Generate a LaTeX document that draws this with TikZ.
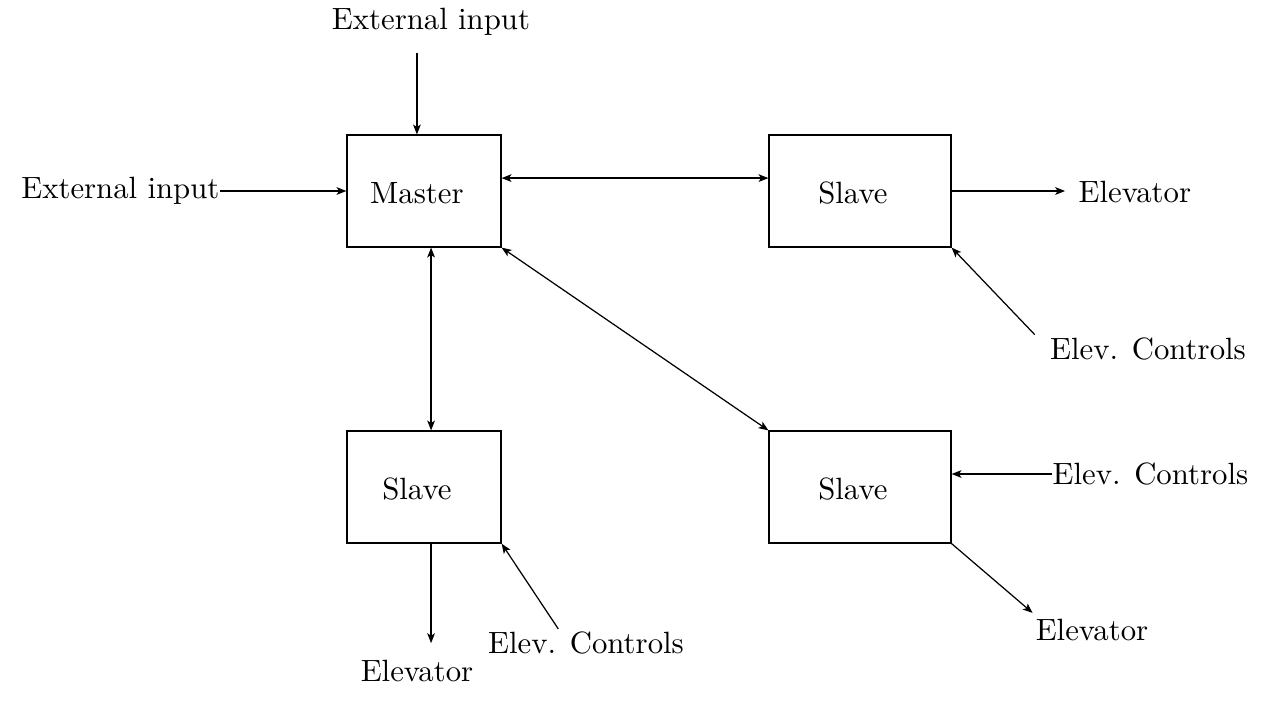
\documentclass[tikz,border=0pt]{standalone}
\usetikzlibrary{arrows.meta}
\begin{document}
\begin{tikzpicture}[x=0.325pt,y=-0.325pt,
  >={Stealth[length=3.2pt,width=2.5pt,inset=0.8pt]},
  conn/.style={line width=0.4pt},
  mbox/.style={draw, line width=0.4pt, minimum width=50.05pt, minimum height=36.4pt, inner sep=0pt},
  sbox/.style={draw, line width=0.4pt, minimum width=59.15pt, minimum height=36.4pt, inner sep=0pt},
  txt/.style={font=\normalsize}]
\useasboundingbox (0,0) rectangle (1261,700);
% boxes
\node[mbox, label={[xshift=-2.3pt,yshift=-0.6pt]center:Master}] (m) at (424,191) {};
\node[sbox, label={[xshift=-2.3pt,yshift=-0.6pt]center:Slave}] (s1) at (860,191) {};
\node[mbox, label={[xshift=-2.3pt,yshift=-0.6pt]center:Slave}] (s2) at (424,487) {};
\node[sbox, label={[xshift=-2.3pt,yshift=-0.6pt]center:Slave}] (s3) at (860,487) {};
% texts
\node[txt] (ext1) at (431,22) {External input};
\node[txt, anchor=east, inner sep=0pt] (ext2) at (220,191) {External input};
\node[txt, anchor=west, inner sep=0pt] (el1) at (1078,192) {Elevator};
\node[txt] (ec1) at (1148,349) {Elev. Controls};
\node[txt, anchor=west, inner sep=0pt] (ec2) at (1052,474) {Elev. Controls};
\node[txt] (el2) at (1092,630) {Elevator};
\node[txt] (el3) at (417,671) {Elevator};
\node[txt] (ec3) at (586,643) {Elev. Controls};
% helper coordinates on the boxes
\coordinate (mtop) at ([xshift=-2.3pt]m.north);
\coordinate (mbot) at ([xshift=2.3pt]m.south);
\coordinate (s2top) at ([xshift=2.3pt]s2.north);
\coordinate (s2bot) at ([xshift=2.3pt]s2.south);
% connectors
\draw[conn,->] ([yshift=-2pt]ext1.south -| mtop) -- (mtop);
\draw[conn,->] (ext2.east) -- (m.west);
\draw[conn,<->] ([yshift=4.2pt]m.east) -- ([yshift=4.2pt]s1.west);
\draw[conn,<->] (mbot) -- (s2top);
\draw[conn,<->] (m.south east) -- (s3.north west);
\draw[conn,->] (s1.east) -- ([xshift=-4.2pt]s1.east -| el1.west);
\draw[conn,->] ([xshift=-1.5pt,yshift=-2.5pt]ec1.north west) -- (s1.south east);
\draw[conn,->] (ec2.west) -- (ec2.west -| s3.east);
\draw[conn,->] (s3.south east) -- ([xshift=2.5pt,yshift=-1.5pt]el2.north west);
\draw[conn,->] (s2bot) -- ([yshift=2pt]s2bot |- el3.north);
\draw[conn,->] ([xshift=-9pt,yshift=-2.6pt]ec3.north) -- (s2.south east);
\end{tikzpicture}
\end{document}
